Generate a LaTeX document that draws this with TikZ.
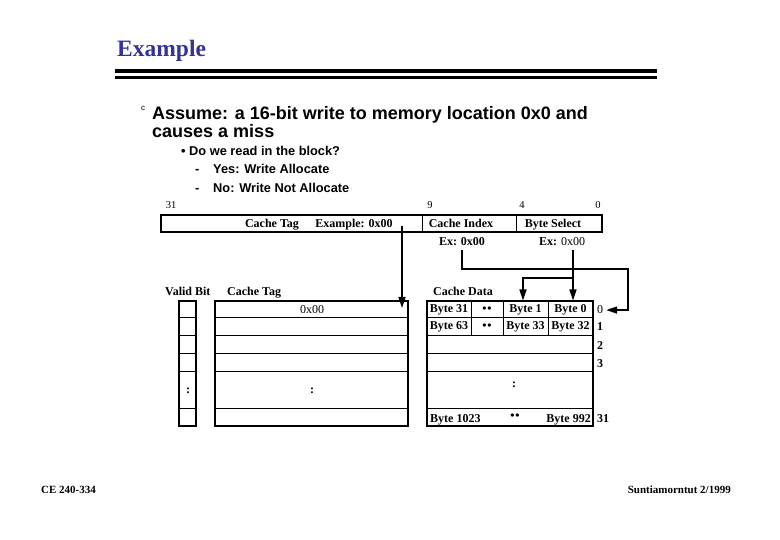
\documentclass[tikz,border=0pt]{standalone}
\usepackage{fontspec}
\setmainfont{Liberation Serif}
\setsansfont{Liberation Sans}
\usepackage{xcolor}
\usepackage{tikz}
\usetikzlibrary{arrows.meta, positioning}
\definecolor{slideBlue}{RGB}{51,51,153}

\begin{document}
\begin{tikzpicture}[
    x=1pt, y=-1pt,
    ttl/.style={font=\fontsize{23.5}{23.5}\selectfont\bfseries, text=slideBlue, anchor=base west, inner sep=0pt},
    bigtxt/.style={font=\sffamily\bfseries\fontsize{18}{18}\selectfont, anchor=base west, inner sep=0pt},
    subtxt/.style={font=\sffamily\bfseries\fontsize{12.8}{12.8}\selectfont, anchor=base west, inner sep=0pt},
    lbl/.style={font=\fontsize{12}{12}\selectfont\bfseries, inner sep=0pt, anchor=base},
    num/.style={font=\fontsize{10.5}{10.5}\selectfont, inner sep=0pt, anchor=base},
    cell/.style={draw, line width=1pt, inner sep=0pt, font=\fontsize{12}{12}\selectfont\bfseries},
    foot/.style={font=\fontsize{11}{11}\selectfont\bfseries, inner sep=0pt},
    frame/.style={line width=1.8pt},
    rowline/.style={line width=1pt},
    arr/.style={-{Triangle[length=11pt,width=7pt]}, line width=1.6pt}
  ]
    \useasboundingbox (0,0) rectangle (780,540);
    % heading
    \node[ttl] (title) at (117,56.5) {Example};
    \draw[line width=4pt] (115,71) -- (657,71);
    \draw[line width=3pt] (115,77.5) -- (657,77.5);
    \node[font=\sffamily\fontsize{8}{8}\selectfont, anchor=base west, inner sep=0pt] (mark) at (141,111) {c};
    \node[bigtxt] (l1) at (152,120) {Assume: a 16-bit write to memory location 0x0 and};
    \node[bigtxt] (l2) at (152,137.5) {causes a miss};
    \node[subtxt] (l3) at (181,156) {\textbullet\ Do we read in the block?};
    \node[subtxt] (d4) at (195,174) {-};
    \node[subtxt] (l4) at (213,174) {Yes: Write Allocate};
    \node[subtxt] (d5) at (195,193) {-};
    \node[subtxt] (l5) at (213,193) {No: Write Not Allocate};

    % address fields
    \node[num] (b31) at (171,209) {31};
    \node[num] (b9) at (430,209) {9};
    \node[num] (b4) at (522,209) {4};
    \node[num] (b0) at (598,209) {0};
    \draw[frame] (161,215) rectangle (602,232);
    \draw[rowline] (422,215) -- (422,232);
    \draw[rowline] (516,215) -- (516,232);
    \node[lbl] (fTag) at (272,228) {Cache Tag};
    \node[lbl] (fEx) at (354,228) {Example: 0x00};
    \node[lbl] (fIdx) at (461,228) {Cache Index};
    \node[lbl] (fSel) at (553,228) {Byte Select};
    \node[lbl] (exIdx) at (462,246) {Ex: 0x00};
    \node[lbl] (exSel) at (562,246) {Ex: \textmd{0x00}};

    % column heads
    \node[lbl, anchor=base west] (hValid) at (165,296) {Valid Bit};
    \node[lbl, anchor=base west] (hTag) at (227,296) {Cache Tag};
    \node[lbl, anchor=base west] (hData) at (433,296) {Cache Data};

    % valid bit and tag columns
    \foreach \yy in {318,336,354,372,408} {
      \draw[rowline] (179,\yy) -- (196,\yy);
      \draw[rowline] (215,\yy) -- (408,\yy);
    }
    \draw[frame] (179,301) rectangle (196,426);
    \draw[frame] (215,301) rectangle (408,426);
    \node[font=\fontsize{12}{12}\selectfont, inner sep=0pt, anchor=base] (tag0) at (312,314) {0x00};
    \node[lbl] (vdots) at (188,393) {:};
    \node[lbl] (tdots) at (312,393) {:};

    % data rows
    \node[cell, minimum width=44pt, minimum height=17pt] (c31) at (449,309.5) {Byte 31};
    \node[cell, minimum width=32pt, minimum height=17pt] (cd0) at (487,309.5) {\textbullet\kern1pt\textbullet};
    \node[cell, minimum width=45pt, minimum height=17pt] (c1) at (525.5,309.5) {Byte 1};
    \node[cell, minimum width=45pt, minimum height=17pt] (c0) at (570.5,309.5) {Byte 0};
    \node[cell, minimum width=44pt, minimum height=18pt] (c63) at (449,327) {Byte 63};
    \node[cell, minimum width=32pt, minimum height=18pt] (cd1) at (487,327) {\textbullet\kern1pt\textbullet};
    \node[cell, minimum width=45pt, minimum height=18pt] (c33) at (525.5,327) {Byte 33};
    \node[cell, minimum width=45pt, minimum height=18pt] (c32) at (570.5,327) {Byte 32};
    \foreach \yy in {354,372,408} \draw[rowline] (427,\yy) -- (593,\yy);
    \draw[frame] (427,301) rectangle (593,426);
    \node[lbl] (ddots) at (514,388) {:};
    \node[lbl, anchor=base west] (c1023) at (430,422) {Byte 1023};
    \node[lbl] (cdl) at (515,420) {\textbullet\kern1pt\textbullet};
    \node[lbl, anchor=base east] (c992) at (591,422) {Byte 992};
    \node[font=\fontsize{12}{12}\selectfont, inner sep=0pt, anchor=base] (r0) at (600,314) {0};
    \node[lbl] (r1) at (600,331) {1};
    \node[lbl] (r2) at (600,349) {2};
    \node[lbl] (r3) at (600,367) {3};
    \node[lbl] (r31) at (603,422) {31};

    % connectors
    \coordinate (tagTap) at (402,226);
    \coordinate (tagHit) at (402,308);
    \coordinate (idxTap) at (462,250);
    \coordinate (idxTurn) at (628,269);
    \coordinate (selTap) at (573,250);
    \coordinate (selFork) at (573,278);
    \draw[arr] (tagTap) -- (tagHit);
    \draw[arr] (idxTap) |- (idxTurn) |- ([xshift=3pt]r0.east);
    \draw[arr] (selTap) -- (selTap |- c0.north);
    \draw[arr] (selFork) -| ([xshift=-2.5pt]c1.north);

    % footer
    \node[foot, anchor=base west] (course) at (41,493) {CE 240-334};
    \node[foot, anchor=base east] (author) at (731,493) {Suntiamorntut 2/1999};
  \end{tikzpicture}
\end{document}
